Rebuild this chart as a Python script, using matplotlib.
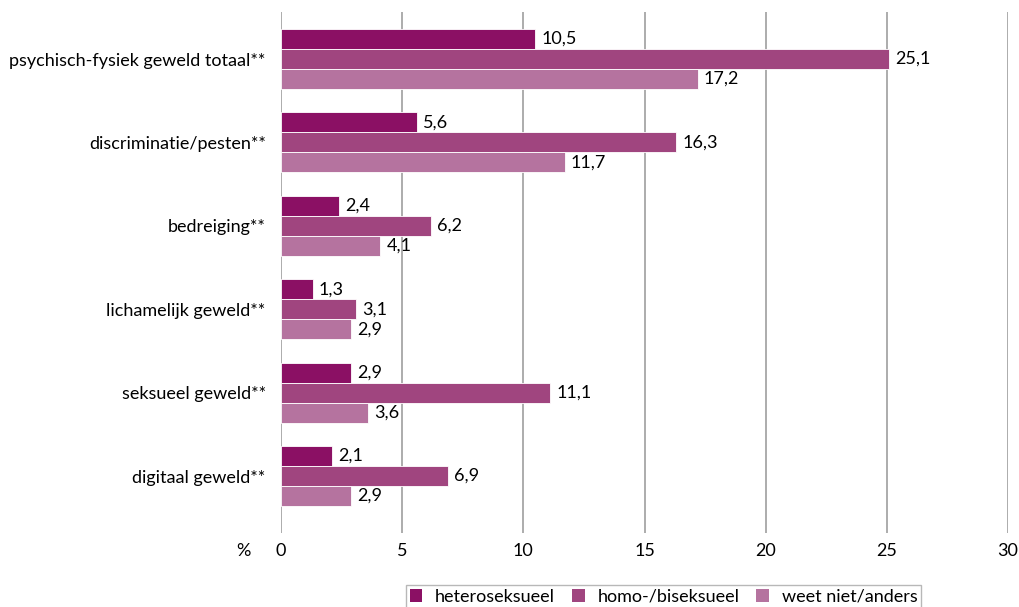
import matplotlib
matplotlib.use("Agg")
import matplotlib.pyplot as plt
import numpy as np
from matplotlib.patches import Patch

categories = ["psychisch-fysiek geweld totaal**", "discriminatie/pesten**", "bedreiging**",
              "lichamelijk geweld**", "seksueel geweld**", "digitaal geweld**"]
series_names = ["heteroseksueel", "homo-/biseksueel", "weet niet/anders"]
hetero = [10.5, 5.6, 2.4, 1.3, 2.9, 2.1]
homo = [25.1, 16.3, 6.2, 3.1, 11.1, 6.9]
weet = [17.2, 11.7, 4.1, 2.9, 3.6, 2.9]
xticks = [0, 5, 10, 15, 20, 25, 30]

colors = ["#8B1064", "#A0457F", "#B5739F"]
plt.rcParams['font.family'] = ['Lato', 'DejaVu Sans']
FS = 13

fig = plt.figure(figsize=(10.19, 6.07), dpi=100)
ax = fig.add_axes([281/1019, 1-533/607, (1008-281)/1019, (533-12)/607])

y = np.arange(len(categories))
h = 0.24
for k, (vals, c) in enumerate(zip([hetero, homo, weet], colors)):
    pos = y + (k - 1) * h
    ax.barh(pos, vals, height=h, color=c, edgecolor="white", linewidth=0.6, zorder=3)
    for p, v in zip(pos, vals):
        ax.text(v + 0.25, p, f"{v:.1f}".replace(".", ","), va="center", ha="left",
                fontsize=FS, color="black", zorder=4)

ax.set_xlim(0, 30)
ax.set_ylim(5.683, -0.564)
ax.set_xticks(xticks)
ax.set_xticklabels([str(t) for t in xticks], fontsize=FS)
ax.set_yticks(y)
ax.set_yticklabels(categories, fontsize=FS)
ax.tick_params(axis="y", length=0, pad=11)
ax.tick_params(axis="x", length=0, pad=7)
ax.xaxis.grid(True, color="#A6A6A6", linewidth=1.3, zorder=0)
ax.set_axisbelow(True)
for s in ax.spines.values():
    s.set_visible(False)
ax.annotate("%", xy=(0, 0), xycoords="axes fraction", xytext=(-27, -7),
            textcoords="offset points", ha="center", va="top", fontsize=FS)

handles = [Patch(facecolor=c, label=n) for c, n in zip(colors, series_names)]
leg = fig.legend(handles=handles, loc="upper left", bbox_to_anchor=(406/1019, 1-585/607),
                 ncol=3, frameon=True, fontsize=FS, handlelength=0.7, handleheight=0.7,
                 columnspacing=0.95, handletextpad=0.7, borderpad=0.2, borderaxespad=0,
                 fancybox=False)
leg.get_frame().set_edgecolor("#A6A6A6")
leg.get_frame().set_linewidth(1.0)

fig.savefig("out.png", dpi=100)
